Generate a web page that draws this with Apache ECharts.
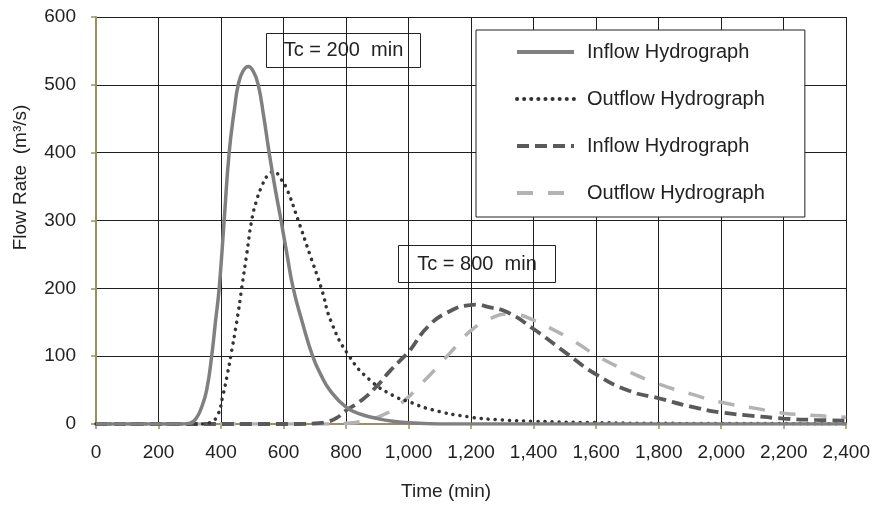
<!DOCTYPE html>
<html>
<head>
<meta charset="utf-8">
<script src="https://cdn.jsdelivr.net/npm/echarts@6/dist/echarts.min.js"></script>
<style>
html,body{margin:0;padding:0;background:#fff;}
#chart{width:873px;height:510px;}
</style>
</head>
<body>
<div id="chart"></div>
<script>
// ---- data ----
const seriesNames = ['Inflow Hydrograph', 'Outflow Hydrograph', 'Inflow Hydrograph ', 'Outflow Hydrograph '];
const legendLabels = ['Inflow Hydrograph', 'Outflow Hydrograph', 'Inflow Hydrograph', 'Outflow Hydrograph'];
const annotations = ['Tc = 200  min', 'Tc = 800  min'];
const xTitle = 'Time (min)';
const yTitle = 'Flow Rate  (m\u00B3/s)';

// Tc = 200 min, inflow (solid)
const inflow200T = [0, 280, 300, 320, 338, 354, 370, 382, 394, 410, 426, 444, 455, 470, 487, 503, 519, 536, 554, 572, 592, 611, 631, 660, 693, 720, 748, 800, 850, 900, 950, 1000, 1100, 2400];
const inflow200V = [0, 0, 1, 8, 25, 50, 100, 150, 200, 300, 400, 468, 500, 520, 527, 520, 500, 455, 400, 350, 300, 250, 200, 150, 100, 72, 50, 25, 14, 8, 4, 2, 0, 0];
// Tc = 200 min, outflow (dotted)
const outflow200T = [0, 340, 364, 388, 405, 421, 431, 450, 466, 482, 498, 514, 530, 550, 570, 590, 609, 647, 684, 721, 753, 810, 876, 950, 1000, 1075, 1200, 1300, 1400, 1600, 1800, 2400];
const outflow200V = [0, 0, 2, 12, 40, 75, 100, 150, 200, 250, 300, 330, 350, 367, 372, 362, 348, 300, 250, 200, 150, 100, 65, 42, 33, 21, 10, 6, 4, 2, 1, 0.5];
// Tc = 800 min, inflow (dark dashed)
const inflow800T = [0, 650, 700, 737, 770, 800, 844, 897, 940, 987, 1000, 1065, 1135, 1190, 1220, 1250, 1315, 1400, 1500, 1600, 1705, 1800, 1900, 2000, 2100, 2200, 2300, 2400];
const inflow800V = [0, 0, 1, 3, 9, 20, 33, 55, 78, 100, 106, 145, 167, 175, 176, 173, 165, 140, 106, 73, 49, 38, 26, 17, 12, 8, 6, 5];
// Tc = 800 min, outflow (light dashed)
const outflow800T = [0, 750, 800, 850, 917, 975, 1055, 1135, 1200, 1260, 1315, 1350, 1400, 1450, 1500, 1550, 1600, 1700, 1800, 1905, 2000, 2110, 2200, 2320, 2400];
const outflow800V = [0, 0, 1, 4, 13, 30, 66, 106, 138, 155, 162, 161, 153, 142, 130, 116, 101, 78, 59, 44, 32, 23, 16, 12, 10];

const xMin = 0, xMax = 2400, xStep = 200;
const yMin = 0, yMax = 600, yStep = 100;

function zip(t, v) { return t.map((x, i) => [x, v[i]]); }
function fmt(v) { return String(v).replace(/\B(?=(\d{3})+(?!\d))/g, ','); }

const FONT = '"Liberation Sans", Arial, sans-serif';
const TXT = '#222';
const AXIS = '#9b9064';

const chart = echarts.init(document.getElementById('chart'), null, {renderer: 'canvas'});

const option = {
  backgroundColor: '#fff',
  animation: false,
  grid: {left: 96, right: 26, top: 17, bottom: 86, containLabel: false},
  xAxis: {
    type: 'value', min: xMin, max: xMax, interval: xStep,
    name: xTitle, nameLocation: 'middle', nameGap: 58,
    nameTextStyle: {fontFamily: FONT, fontSize: 19, color: TXT, padding: [0, 50, 0, 0]},
    axisLine: {show: true, onZero: false, lineStyle: {color: AXIS, width: 2}},
    axisTick: {show: true, inside: false, length: 5, lineStyle: {color: AXIS, width: 1.5}},
    axisLabel: {fontFamily: FONT, fontSize: 19, color: TXT, margin: 19, formatter: fmt},
    splitLine: {show: true, lineStyle: {color: '#1e1e1e', width: 1}}
  },
  yAxis: {
    type: 'value', min: yMin, max: yMax, interval: yStep,
    name: yTitle, nameLocation: 'middle', nameGap: 66,
    nameTextStyle: {fontFamily: FONT, fontSize: 19, color: TXT, padding: [0, 0, 0, 86]},
    axisLine: {show: true, lineStyle: {color: AXIS, width: 2}},
    axisTick: {show: true, inside: false, length: 5, lineStyle: {color: AXIS, width: 1.5}},
    axisLabel: {fontFamily: FONT, fontSize: 19, color: TXT, margin: 20},
    splitLine: {show: true, lineStyle: {color: '#1e1e1e', width: 1}}
  },
  legend: {
    orient: 'vertical', left: 476, top: 30,
    data: seriesNames,
    formatter: name => legendLabels[seriesNames.indexOf(name)],
    backgroundColor: '#fff', borderColor: '#222', borderWidth: 1,
    padding: [12, 40, 14, 39],
    itemWidth: 57, itemHeight: 14, itemGap: 27,
    itemStyle: {opacity: 0},
    lineStyle: {width: 4},
    textStyle: {fontFamily: FONT, fontSize: 20, color: TXT, lineHeight: 20, padding: [0, 0, 0, 8]}
  },
  series: [
    {
      name: seriesNames[3], type: 'line', data: zip(outflow800T, outflow800V),
      symbol: 'none', smooth: true, z: 2,
      lineStyle: {color: '#b3b3b3', width: 3.5, type: [16, 15]},
      itemStyle: {color: '#b3b3b3'}
    },
    {
      name: seriesNames[2], type: 'line', data: zip(inflow800T, inflow800V),
      symbol: 'none', smooth: true, z: 3,
      lineStyle: {color: '#5a5a5a', width: 3.8, type: [12, 6]},
      itemStyle: {color: '#5a5a5a'}
    },
    {
      name: seriesNames[1], type: 'line', data: zip(outflow200T, outflow200V),
      symbol: 'none', smooth: true, z: 4,
      lineStyle: {color: '#333333', width: 3.5, type: [0.1, 7], cap: 'round'},
      itemStyle: {color: '#333333'}
    },
    {
      name: seriesNames[0], type: 'line', data: zip(inflow200T, inflow200V),
      symbol: 'none', smooth: true, z: 5,
      lineStyle: {color: '#808080', width: 3.5},
      itemStyle: {color: '#808080'}
    }
  ],
  graphic: [
    {
      type: 'group', left: 266, top: 33, z: 100,
      children: [
        {type: 'rect', shape: {x: 0, y: 0, width: 154, height: 34}, style: {fill: '#fff', stroke: '#222', lineWidth: 1}},
        {type: 'text', x: 77, y: 17, style: {text: annotations[0], font: '20px ' + FONT, fill: TXT, align: 'center', verticalAlign: 'middle'}}
      ]
    },
    {
      type: 'group', left: 398, top: 245, z: 100,
      children: [
        {type: 'rect', shape: {x: 0, y: 0, width: 157, height: 37}, style: {fill: '#fff', stroke: '#222', lineWidth: 1}},
        {type: 'text', x: 78.5, y: 18.5, style: {text: annotations[1], font: '20px ' + FONT, fill: TXT, align: 'center', verticalAlign: 'middle'}}
      ]
    }
  ]
};
chart.setOption(option);
</script>
</body>
</html>
